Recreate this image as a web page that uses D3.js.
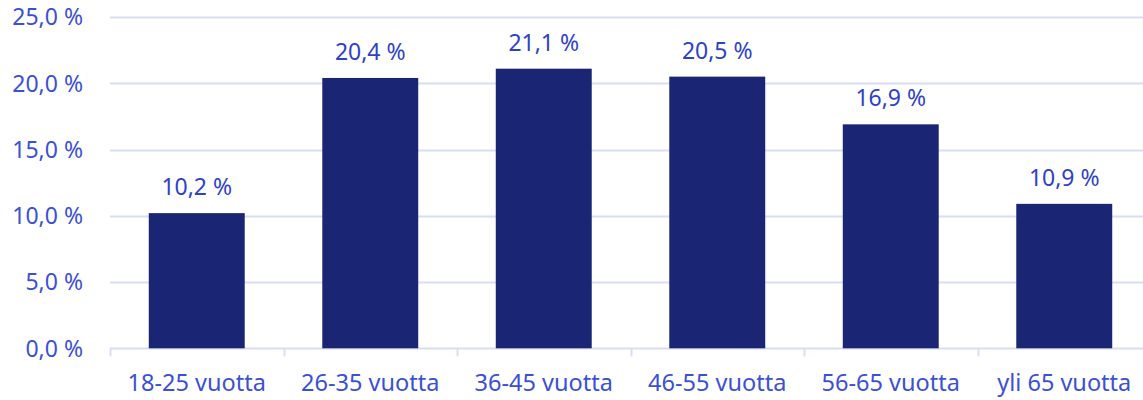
<!DOCTYPE html>
<html>
<head>
<meta charset="utf-8">
<script src="https://cdn.jsdelivr.net/npm/d3@7"></script>
<style>
  body { margin: 0; background: #fff; }
  svg { display: block; font-family: "Noto Sans", sans-serif; }
</style>
</head>
<body>
<script>
var categories = ["18-25 vuotta", "26-35 vuotta", "36-45 vuotta", "46-55 vuotta", "56-65 vuotta", "yli 65 vuotta"];
var values = [10.2, 20.4, 21.1, 20.5, 16.9, 10.9];
var yTicks = [0, 5, 10, 15, 20, 25];

var width = 1143,
    height = 400;

var left = 110,
    bandW = 173.5;

var bar_col = "#1a2674",
    text_col = "#3b50d4",
    label_col = "#2f42c6",
    grid_col = "#d8def4";

function fmt(v) { return v.toFixed(1).replace(".", ",") + " %"; }

var svg = d3.select("body").append("svg")
    .attr("width", width)
    .attr("height", height);

var x = d3.scaleBand()
    .domain(categories)
    .range([left, left + bandW * categories.length])
    .paddingInner(0.447)
    .paddingOuter(0.2235);

var y = d3.scaleLinear()
    .domain([0, 25])
    .range([348.3, 17]);

// gridlines
svg.append("g").selectAll("line")
    .data(yTicks)
    .enter().append("line")
    .attr("x1", left)
    .attr("x2", width)
    .attr("y1", function(d) { return Math.round(y(d)) + 0.5; })
    .attr("y2", function(d) { return Math.round(y(d)) + 0.5; })
    .attr("stroke", grid_col)
    .attr("stroke-width", 2);

// y labels
svg.append("g").selectAll("text")
    .data(yTicks)
    .enter().append("text")
    .attr("x", 83)
    .attr("y", function(d) { return y(d); })
    .attr("dy", "0.36em")
    .attr("text-anchor", "end")
    .attr("font-size", 23)
    .attr("fill", text_col)
    .text(fmt);

// category tick marks at band edges
var edges = d3.range(categories.length + 1).map(function(i) { return left + i * bandW; });
svg.append("g").selectAll("line")
    .data(edges)
    .enter().append("line")
    .attr("x1", function(d) { return Math.round(d) + 0.5; })
    .attr("x2", function(d) { return Math.round(d) + 0.5; })
    .attr("y1", y(0))
    .attr("y2", y(0) + 8)
    .attr("stroke", grid_col)
    .attr("stroke-width", 2);

// bars
svg.append("g").selectAll("rect")
    .data(values)
    .enter().append("rect")
    .attr("x", function(d, i) { return x(categories[i]); })
    .attr("y", function(d) { return y(d); })
    .attr("width", x.bandwidth())
    .attr("height", function(d) { return y(0) - y(d); })
    .attr("fill", bar_col);

// value labels
svg.append("g").selectAll("text")
    .data(values)
    .enter().append("text")
    .attr("x", function(d, i) { return x(categories[i]) + x.bandwidth() / 2; })
    .attr("y", function(d) { return y(d) - 18; })
    .attr("text-anchor", "middle")
    .attr("font-size", 23)
    .attr("fill", label_col)
    .text(fmt);

// category labels
svg.append("g").selectAll("text")
    .data(categories)
    .enter().append("text")
    .attr("x", function(d) { return x(d) + x.bandwidth() / 2; })
    .attr("y", 391)
    .attr("text-anchor", "middle")
    .attr("font-size", 23.5)
    .attr("fill", text_col)
    .text(function(d) { return d; });
</script>
</body>
</html>
